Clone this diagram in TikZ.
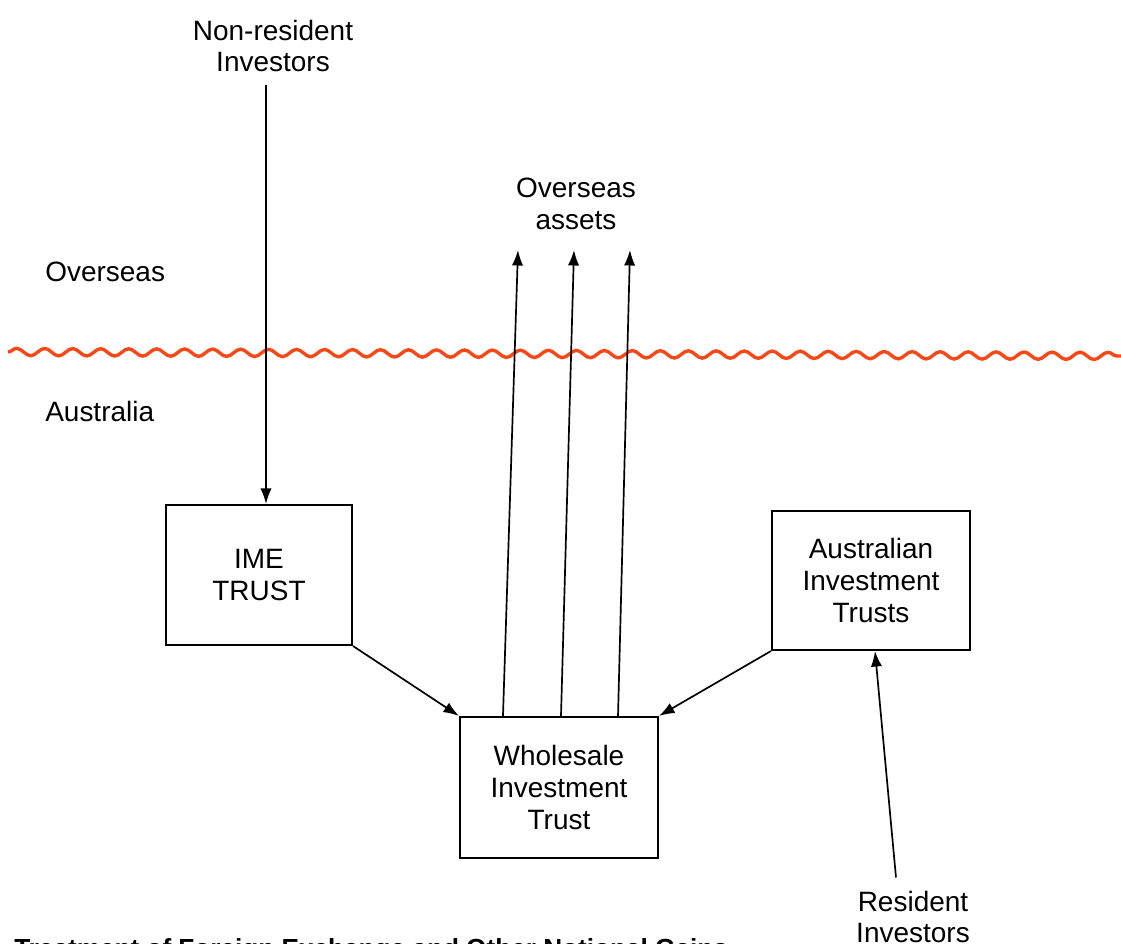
\documentclass[tikz,border=0pt]{standalone}
\usepackage{fontspec}
\setmainfont{Liberation Sans}
\usetikzlibrary{arrows.meta}
\usetikzlibrary{decorations.pathmorphing}
\definecolor{waveorange}{RGB}{248,72,24}

\begin{document}
\begin{tikzpicture}[x=0.025cm,y=-0.025cm,
  font=\fontsize{19.9}{22.7}\selectfont,
  box/.style={draw, line width=1.5pt, align=center, inner sep=0pt},
  lbl/.style={align=center, inner sep=0pt},
  arr/.style={line width=1.2pt, -{Latex[length=11pt,width=8pt]}}]
\clip (0,0) rectangle (1121,944);
% draws the border line
\draw[waveorange, line width=2.4pt, decorate,
  decoration={snake, segment length=19.9pt, amplitude=2.6pt}] (8,352) -- (1121,356);
% labels regions
\node[lbl, anchor=west] (overseas) at (45,272) {Overseas};
\node[lbl, anchor=west] (australia) at (45,412) {Australia};
% draws boxes
\node[box, minimum width=4.65cm, minimum height=3.5cm] (ime) at (259,575) {IME\\TRUST};
\node[box, minimum width=4.95cm, minimum height=3.525cm] (whole) at (559,787.5) {Wholesale\\Investment\\Trust};
\node[box, minimum width=4.95cm, minimum height=3.475cm] (aus) at (871,580.5) {Australian\\Investment\\Trusts};
% labels investors and assets
\node[lbl] (nonres) at (273,46) {Non-resident\\Investors};
\node[lbl] (assets) at (576,204) {Overseas\\assets};
\node[lbl] (res) at (913,917) {Resident\\Investors};
\node[lbl, anchor=base west, font=\bfseries\fontsize{18.6}{21}\selectfont] (caption) at (14,957)
  {Treatment of Foreign Exchange and Other Notional Gains};
% draws arrows
\coordinate (nrtop) at (266,85);
\coordinate (tipa) at (518,250);
\coordinate (tipb) at (574,250);
\coordinate (tipc) at (630,250);
\draw[arr] (nrtop) -- (nrtop |- ime.north);
\draw[arr] ([xshift=-1.4cm]whole.north) -- (tipa);
\draw[arr] ([xshift=0.05cm]whole.north) -- (tipb);
\draw[arr] ([xshift=1.475cm]whole.north) -- (tipc);
\draw[arr] (ime.south east) -- (whole.north west);
\draw[arr] (aus.south west) -- (whole.north east);
\draw[arr] ([shift={(-17,-13)}]res.north) -- ([xshift=0.1cm]aus.south);
\end{tikzpicture}
\end{document}
